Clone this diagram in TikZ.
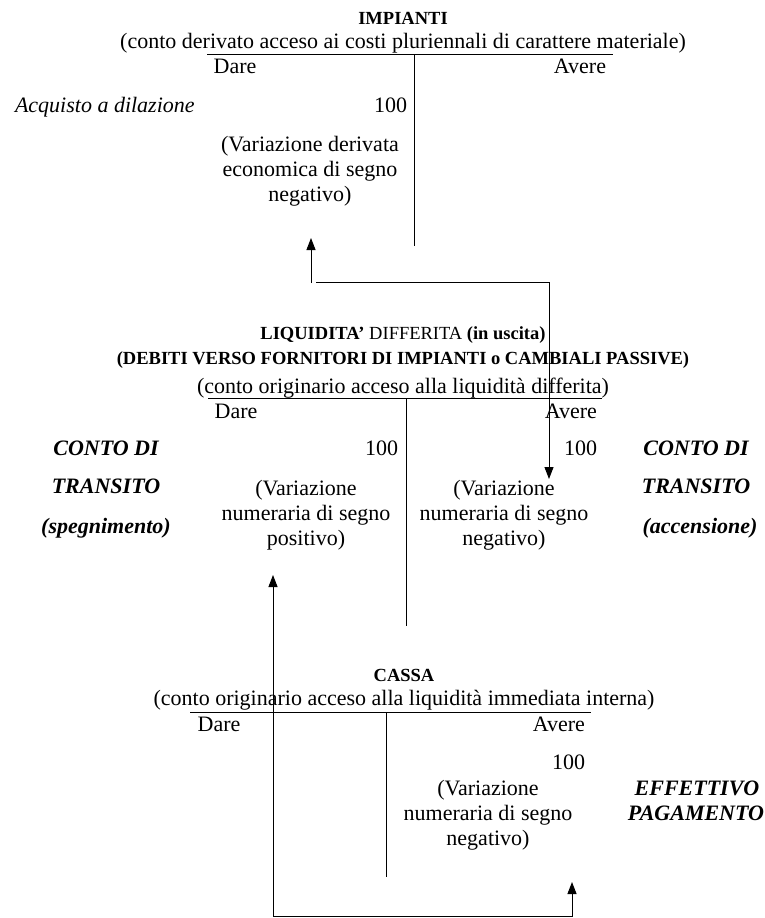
\documentclass[tikz,border=0pt]{standalone}
\usepackage{fontspec}
\setmainfont{Liberation Serif}
\usetikzlibrary{arrows.meta}
\begin{document}
\begin{tikzpicture}[x=1pt,y=-1pt,
  every node/.style={inner sep=0pt, outer sep=0pt},
  txt/.style={font=\fontsize{22}{25}\selectfont, align=center},
  ttl/.style={font=\fontsize{18.5}{22}\selectfont, align=center},
  bi/.style={font=\fontsize{22}{25}\selectfont\bfseries\itshape},
  it/.style={font=\fontsize{22}{25}\selectfont\itshape},
  acc/.style={line width=1pt},
  arr/.style={line width=1pt, -{Triangle[length=12pt,width=9pt]}},
  darr/.style={line width=1pt, {Triangle[length=12pt,width=9pt]}-{Triangle[length=12pt,width=9pt]}},
]
\useasboundingbox (0,0) rectangle (764,918);

% ---------- IMPIANTI ----------
\node[ttl] (imp) at (403,20) {\strut\textbf{IMPIANTI}};
\node[txt] (impsub) at (403,43) {\strut(conto derivato acceso ai costi pluriennali di carattere materiale)};
\coordinate (t1l) at (207,54); \coordinate (t1r) at (613,54);
\coordinate (t1t) at (414,54); \coordinate (t1b) at (414,246);
\draw[acc] (t1l) -- (t1r);
\draw[acc] (t1t) -- (t1b);
\node[txt] (impdare) at (235,68) {\strut Dare};
\node[txt] (impavere) at (580,68) {\strut Avere};
\node[it, anchor=west] (acq) at (15,107) {\strut Acquisto a dilazione};
\node[txt, anchor=east] (imp100) at (407,107) {\strut 100};
\node[txt] (impvar) at (310,171) {\strut(Variazione derivata\\\strut economica di segno\\\strut negativo)};

% ---------- LIQUIDITA' ----------
\node[ttl] (liq) at (403,335) {\strut\textbf{LIQUIDITA’} DIFFERITA \textbf{(in uscita)}};
\node[ttl] (deb) at (403,360) {\strut\textbf{(DEBITI VERSO FORNITORI DI IMPIANTI o CAMBIALI PASSIVE)}};
\node[txt] (liqsub) at (403,388) {\strut(conto originario acceso alla liquidità differita)};
\coordinate (t2l) at (208,398); \coordinate (t2r) at (602,398);
\coordinate (t2t) at (406,398); \coordinate (t2b) at (406,626);
\draw[acc] (t2l) -- (t2r);
\draw[acc] (t2t) -- (t2b);
\node[txt] (liqdare) at (236,413) {\strut Dare};
\node[txt, anchor=east] (liqavere) at (597,413) {\strut Avere};
\node[bi] (ctl1) at (106,450) {\strut CONTO DI};
\node[bi] (ctl2) at (106,488) {\strut TRANSITO};
\node[bi] (ctl3) at (106,528) {\strut(spegnimento)};
\node[bi] (ctr1) at (696,450) {\strut CONTO DI};
\node[bi] (ctr2) at (696,488) {\strut TRANSITO};
\node[bi] (ctr3) at (700,528) {\strut(accensione)};
\node[txt, anchor=east] (liq100l) at (398,450) {\strut 100};
\node[txt, anchor=east] (liq100r) at (597,450) {\strut 100};
\node[txt] (liqvarl) at (306,515) {\strut(Variazione\\\strut numeraria di segno\\\strut positivo)};
\node[txt] (liqvarr) at (504,515) {\strut(Variazione\\\strut numeraria di segno\\\strut negativo)};

% ---------- CASSA ----------
\node[ttl] (cas) at (404,677) {\strut\textbf{CASSA}};
\node[txt] (cassub) at (404,700) {\strut(conto originario acceso alla liquidità immediata interna)};
\coordinate (t3l) at (190,712); \coordinate (t3r) at (591,712);
\coordinate (t3t) at (386,712); \coordinate (t3b) at (386,877);
\draw[acc] (t3l) -- (t3r);
\draw[acc] (t3t) -- (t3b);
\node[txt] (casdare) at (219,726) {\strut Dare};
\node[txt, anchor=east] (casavere) at (585,726) {\strut Avere};
\node[txt, anchor=east] (cas100) at (585,764) {\strut 100};
\node[txt] (casvar) at (488,815) {\strut(Variazione\\\strut numeraria di segno\\\strut negativo)};
\node[bi] (eff) at (697,790) {\strut EFFETTIVO};
\node[bi] (pag) at (696,815) {\strut PAGAMENTO};

% ---------- connectors ----------
\coordinate (a1s) at (311,283); \coordinate (a1e) at (311,238);
\draw[arr] (a1s) -- (a1e);
\coordinate (a2s) at (316,282); \coordinate (a2c) at (549,282); \coordinate (a2e) at (549,479);
\draw[arr] (a2s) -- (a2c) -- (a2e);
\coordinate (b1) at (273,575); \coordinate (b2) at (273,916);
\coordinate (b3) at (572,916); \coordinate (b4) at (572,882);
\draw[darr] (b1) -- (b2) -- (b3) -- (b4);
\end{tikzpicture}
\end{document}
